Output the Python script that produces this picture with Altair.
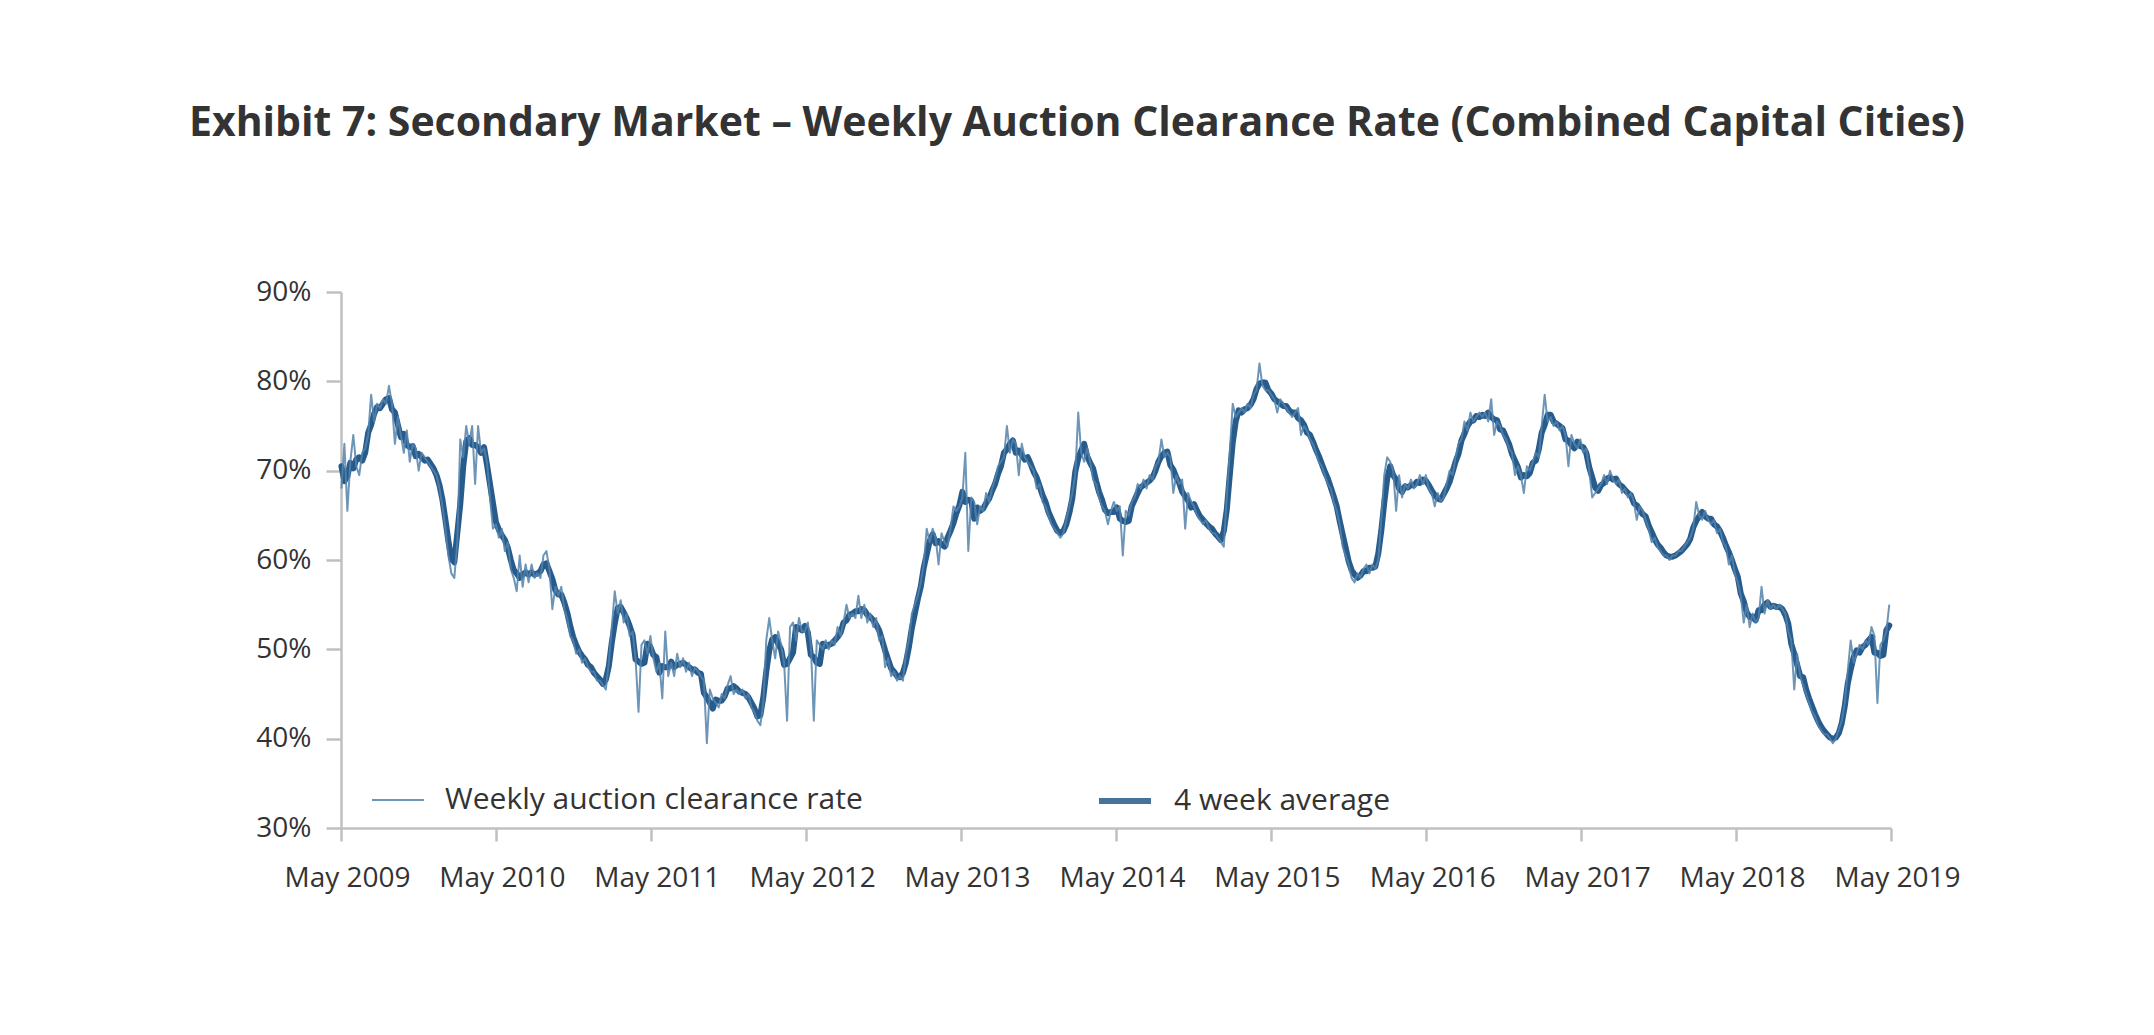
import altair as alt
import pandas as pd

TITLE = "Exhibit 7: Secondary Market – Weekly Auction Clearance Rate (Combined Capital Cities)"
SERIES = ["Weekly auction clearance rate", "4 week average"]
COLORS = ["#5383ac", "#265b8b"]
WIDTHS = [2, 6]
FIRST_WEEK = "2009-05-02"
Y_TICKS = [30, 40, 50, 60, 70, 80, 90]
X_TICK_YEARS = list(range(2009, 2020))

# weekly clearance rate (%), May-to-April seasons
rate_2009_10 = [68, 73, 65.5, 71, 74, 70.5, 69.5, 72, 72.5, 74,
                78.5, 75.5, 77.5, 77, 78, 77.5, 79.5, 77.5, 73, 76,
                74, 72, 74.5, 71, 73, 72.5, 70, 72, 71.5, 71,
                70.5, 70, 69.5, 68, 66, 63.5, 60.5, 58.5, 58, 62,
                73.5, 71.5, 75, 73, 75, 68.5, 75, 72, 72.5, 71,
                67, 63.5]
rate_2010_11 = [64, 62.5, 63.5, 61, 62, 59, 58, 56.5, 60.5, 57,
                59.5, 57.5, 59.5, 58, 58.5, 58, 60.5, 61, 59, 54.5,
                57, 56, 57, 54.5, 53.5, 51.5, 51, 49.5, 50, 48.5,
                49, 48, 47.5, 47.5, 46.5, 46.5, 46, 45.5, 48.5, 52.5,
                56.5, 54, 55.5, 53, 54, 51.5, 52, 49, 43, 50.5,
                51, 49.5]
rate_2011_12 = [51.5, 49, 47.5, 48.5, 44.5, 52, 47, 48.5, 47, 49.5,
                48, 49, 47.5, 48.5, 47, 48, 47.5, 47, 46.5, 39.5,
                45.5, 44.5, 44, 43.5, 45, 44.5, 46, 47, 45, 45.5,
                45, 45.5, 44.5, 45, 43.5, 43, 42, 41.5, 44, 51,
                53.5, 51, 49, 52, 50.5, 48.5, 42, 52.5, 53, 51,
                53.5, 52]
rate_2012_13 = [52, 53, 50.5, 42, 51, 50.5, 50, 51, 50, 51,
                50.5, 52.5, 51.5, 53, 55, 53.5, 54, 53.5, 56, 53.5,
                55, 53, 54, 52.5, 53.5, 51, 51.5, 48, 49, 47,
                47.5, 46.5, 47, 46.5, 49.5, 51, 54, 55, 56, 57.5,
                59.5, 63.5, 62, 63.5, 62.5, 59.5, 63, 62, 61.5, 63.5,
                66, 65.5]
rate_2013_14 = [66, 67, 72, 61, 67, 66.5, 64, 66, 65.5, 67.5,
                66.5, 68, 69, 70.5, 71, 71.5, 75, 72, 73.5, 73,
                69.5, 73, 71.5, 71, 70.5, 70, 68, 68.5, 66.5, 66,
                65, 64, 63.5, 63, 62.5, 63, 64.5, 66, 67.5, 69.5,
                76.5, 72, 71, 72.5, 71, 69, 68.5, 67, 66, 65.5,
                64, 65.5]
rate_2014_15 = [66.5, 65.5, 66, 60.5, 65.5, 65, 66.5, 67, 68.5, 68,
                69, 68, 69.5, 69, 70.5, 71, 73.5, 71.5, 72, 71.5,
                67.5, 69.5, 68.5, 69, 63.5, 67.5, 66.5, 66, 65, 64.5,
                64, 64.5, 63.5, 63, 63, 62.5, 62, 61.5, 67, 72,
                77.5, 76, 76.5, 77, 76.5, 77.5, 77, 78.5, 79, 82,
                79.5, 79]
rate_2015_16 = [79, 78.5, 78, 76.5, 78, 77.5, 77, 76.5, 76, 76.5,
                77, 74, 75, 74.5, 73.5, 73, 72, 71, 70.5, 69.5,
                68.5, 68, 66.5, 65.5, 64, 61.5, 60.5, 59.5, 58, 57.5,
                58.5, 58, 59, 59.5, 58.5, 59.5, 59, 60, 64.5, 69.5,
                71.5, 71, 70, 65.5, 69.5, 67, 68.5, 68, 69, 68,
                68.5, 69.5]
rate_2016_17 = [68.5, 69.5, 68, 67.5, 66, 67.5, 66.5, 67, 68.5, 70,
                69.5, 71.5, 73, 73.5, 75.5, 74.5, 76.5, 75.5, 76, 76.5,
                76, 76.5, 75.5, 78, 74, 75.5, 75, 74, 73.5, 72.5,
                72, 69.5, 70.5, 69.5, 67.5, 70.5, 70, 71, 72, 71.5,
                75, 78.5, 75.5, 76, 75, 75.5, 74.5, 75, 74, 70.5,
                74, 73]
rate_2017_18 = [72.5, 73.5, 72, 72.5, 70, 67, 67.5, 68, 68.5, 69.5,
                68.5, 70, 69, 68.5, 69, 67.5, 68, 67, 67.5, 66.5,
                64.5, 66, 65.5, 64.5, 63.5, 62, 62.5, 61.5, 61, 60.5,
                60.5, 60, 60.5, 60.5, 61, 61, 61.5, 62, 62.5, 63.5,
                66.5, 65, 64.5, 65.5, 64.5, 64, 64.5, 63, 63.5, 62,
                61.5, 59.5]
rate_2018_19 = [60.5, 58.5, 57.5, 56, 53, 55, 52.5, 54, 53, 53.5,
                57, 54, 55.5, 54.5, 55, 54.5, 55, 54.5, 54, 52,
                51, 45.5, 49.5, 47, 46, 45, 44, 43, 42.5, 41.5,
                41, 40.5, 40.5, 40, 39.5, 40, 41, 42, 44, 47.5,
                51, 48.5, 49.5, 50.5, 50, 51, 50.5, 52.5, 51.5, 44,
                50.5, 51, 52, 55]

weekly = (rate_2009_10 + rate_2010_11 + rate_2011_12 + rate_2012_13 + rate_2013_14
          + rate_2014_15 + rate_2015_16 + rate_2016_17 + rate_2017_18 + rate_2018_19)

dates = pd.date_range(FIRST_WEEK, periods=len(weekly), freq="7D")
df = pd.DataFrame({"date": dates.strftime("%Y-%m-%dT00:00:00"), "rate": weekly})

FONT = "Open Sans"
TEXT = "#333333"
AXIS_GREY = "#c0c0c0"

x_enc = alt.X(
    "date:T",
    title=None,
    scale=alt.Scale(domain=[alt.DateTime(year=2009, month=5, date=1),
                            alt.DateTime(year=2019, month=5, date=1)]),
    axis=alt.Axis(values=[alt.DateTime(year=y, month=5, date=1) for y in X_TICK_YEARS],
                  format="%b %Y", labelFlush=False, labelOverlap=False, labelBound=False,
                  tickSize=13, labelPadding=23, labelOffset=6),
)
y_scale = alt.Scale(domain=[30, 90], nice=False, zero=False)
y_axis = alt.Axis(values=Y_TICKS, labelExpr="datum.value + '%'", tickSize=15, labelPadding=15)

legend = alt.Legend(title=None, orient="none", legendX=30, legendY=480, direction="horizontal",
                    symbolType="stroke", symbolSize=2700, labelFontSize=30, labelFont=FONT,
                    labelColor=TEXT, labelOffset=20, columnPadding=224, padding=0, labelLimit=800)
color_enc = alt.Color("series:N", scale=alt.Scale(domain=SERIES, range=COLORS), legend=legend)
sw_enc = alt.StrokeWidth("series:N", scale=alt.Scale(domain=SERIES, range=WIDTHS), legend=legend)

avg_layer = (
    alt.Chart(df)
    .transform_window(avg4="mean(rate)", frame=[-2, 1], sort=[alt.SortField("date", order="ascending")])
    .transform_calculate(series="'4 week average'")
    .mark_line(strokeCap="round", strokeJoin="round")
    .encode(x=x_enc, y=alt.Y("avg4:Q", title=None, scale=y_scale, axis=y_axis),
            color=color_enc, strokeWidth=sw_enc)
)
weekly_layer = (
    alt.Chart(df)
    .transform_calculate(series="'Weekly auction clearance rate'")
    .mark_line(opacity=0.85, strokeJoin="round")
    .encode(x=x_enc, y=alt.Y("rate:Q", title=None, scale=y_scale, axis=y_axis),
            color=color_enc, strokeWidth=sw_enc)
)

chart = (
    alt.layer(avg_layer, weekly_layer)
    .properties(
        width=1550, height=536,
        title=alt.TitleParams(text=TITLE, font=FONT, fontSize=41, fontWeight="bold", color=TEXT,
                              anchor="middle", frame="group", dx=-39, offset=133),
        padding={"left": 341, "top": 292, "right": 263, "bottom": 207},
        autosize=alt.AutoSizeParams(type="none"),
        background="white",
    )
    .configure_view(stroke=None)
    .configure_axis(labelFont=FONT, labelFontSize=28, labelColor=TEXT, domainColor=AXIS_GREY,
                    domainWidth=2.5, tickColor=AXIS_GREY, tickWidth=2.5, grid=False)
)

chart.save("out.html", embed_options={"renderer": "svg", "actions": False})
